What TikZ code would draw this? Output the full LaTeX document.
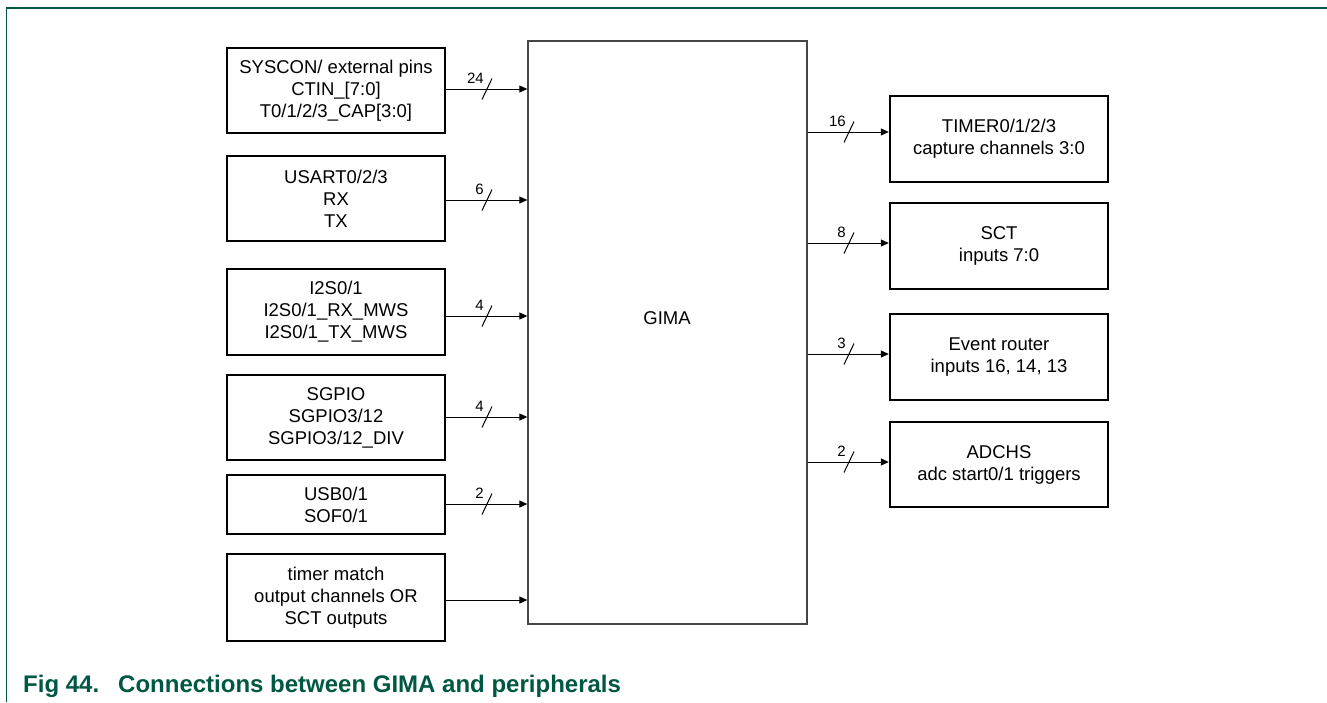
\documentclass[tikz,border=0pt]{standalone}
\usepackage{fontspec}
\setmainfont{Liberation Sans}
\usetikzlibrary{arrows.meta}
\definecolor{nxpgreen}{RGB}{0,88,68}
\definecolor{gimagray}{RGB}{70,70,70}
\tikzset{
  blk/.style={draw=black, line width=2.4pt, rectangle, minimum width=218pt, inner sep=0pt, align=center,
     font=\fontsize{18.5}{22}\selectfont},
  gimabox/.style={draw=gimagray, line width=1.3pt, rectangle, minimum width=279pt, minimum height=583pt, inner sep=0pt},
  arr/.style={line width=1pt, -{Triangle[length=8pt,width=7pt]}},
  bus/.style={line width=1pt},
  buslabel/.style={font=\fontsize{15}{15}\selectfont, anchor=base east, inner sep=0pt},
  frame/.style={draw=nxpgreen, line width=1.6pt},
}
\begin{document}
\begin{tikzpicture}[x=1pt,y=-1pt]
\useasboundingbox (0,0) rectangle (1327,702);
% frame
\coordinate (ftr) at (1327,8);
\coordinate (ftl) at (6.5,8);
\coordinate (fbl) at (6.5,702);
\draw[frame] (ftr) -- (ftl) -- (fbl);

% GIMA
\node[gimabox] (gima) at (667.5,332.5) {};
\node[font=\fontsize{18.5}{22}\selectfont] (gimatxt) at (667,318) {GIMA};

% left boxes
\node[blk, minimum height=85pt] (sys) at (336,90.5) {SYSCON/ external pins\\CTIN\_[7:0]\\T0/1/2/3\_CAP[3:0]};
\node[blk, minimum height=85pt] (usart) at (336,198.5) {USART0/2/3\\RX\\TX};
\node[blk, minimum height=86pt] (i2s) at (336,312) {I2S0/1\\I2S0/1\_RX\_MWS\\I2S0/1\_TX\_MWS};
\node[blk, minimum height=85pt] (sgpio) at (336,417.5) {SGPIO\\SGPIO3/12\\SGPIO3/12\_DIV};
\node[blk, minimum height=59pt] (usb) at (336,504.5) {USB0/1\\SOF0/1};
\node[blk, minimum height=87pt] (tmr) at (336,597.5) {timer match\\output channels OR\\SCT outputs};

% right boxes
\node[blk, minimum height=86pt] (timer) at (999,139) {TIMER0/1/2/3\\capture channels 3:0};
\node[blk, minimum height=86pt] (sct) at (999,246) {SCT\\inputs 7:0};
\node[blk, minimum height=86pt] (evt) at (999,357) {Event router\\inputs 16, 14, 13};
\node[blk, minimum height=85pt] (adc) at (999,464.5) {ADCHS\\adc start0/1 triggers};

% left connectors
\foreach \b/\yy/\n in {sys/89/24, usart/200/6, i2s/316/4, sgpio/417/4, usb/504/2}{
  \draw[arr] (\b.east |- 0,\yy) -- (gima.west |- 0,\yy);
  \draw[bus] (492,\yy-10.5) -- (482,\yy+10.5);
  \node[buslabel] at (484,\yy-6) {\n};
}
\draw[arr] (tmr.east |- 0,600) -- (gima.west |- 0,600);

% right connectors
\foreach \b/\yy/\n in {timer/132/16, sct/243/8, evt/354/3, adc/462/2}{
  \draw[arr] (gima.east |- 0,\yy) -- (\b.west |- 0,\yy);
  \draw[bus] (854,\yy-10.5) -- (844,\yy+10.5);
  \node[buslabel] at (846,\yy-6) {\n};
}

% caption
\node[anchor=base west, inner sep=0pt, text=nxpgreen, font=\bfseries\fontsize{24}{26}\selectfont] (cap) at (23,692)
  {\makebox[95pt][l]{Fig 44.}Connections between GIMA and peripherals};
\end{tikzpicture}
\end{document}
